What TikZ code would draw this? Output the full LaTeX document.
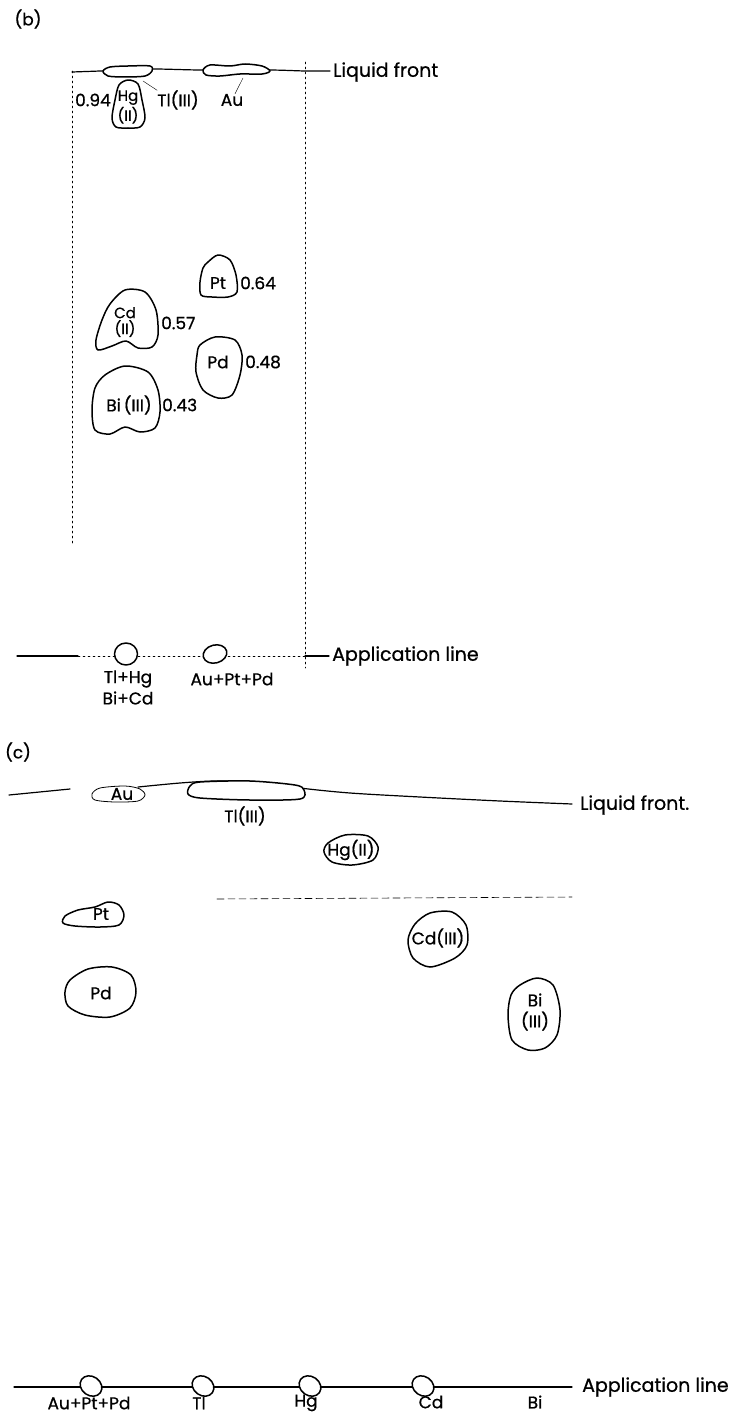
\documentclass[tikz,border=0pt]{standalone}
\usepackage{fontspec}
\setmainfont{Poppins}[FakeBold=0.7]
\begin{document}
\begin{tikzpicture}[x=1pt,y=-1pt,line cap=round,
  spot/.style={line width=1.5pt,fill=white,line join=round},
  faintspot/.style={line width=0.8pt,fill=white},
  front/.style={line width=1.2pt},
  guide/.style={line width=0.5pt,dash pattern=on 2pt off 3pt},
  leader/.style={line width=0.4pt},
  lbl/.style={inner sep=0pt,font=\fontsize{17}{18}\selectfont},
  small/.style={inner sep=0pt,align=center,font=\fontsize{15}{15}\selectfont},
  rf/.style={inner sep=0pt,anchor=west,font=\fontsize{17}{18}\selectfont},
  tag/.style={inner sep=0pt,anchor=west,font=\fontsize{19}{20}\selectfont}]
  \useasboundingbox (0,0) rectangle (728,1418);
  % ============ CROMATOGRAMA (b) ============
  \node[lbl] (pb) at (28,19) {(b)};
  % guias verticales
  \draw[guide] (72,71) -- (72,545);
  \draw[guide] (305,62) -- (305,668);
  % frente del liquido
  \draw[front] plot[smooth] coordinates {(72,72) (100,71) (150,69) (200,70) (270,70) (305,71) (330,71)};
  \node[tag] (lfb) at (333,72) {Liquid front};
  % manchas en el frente
  \draw[spot] plot[smooth cycle] coordinates {(103,71) (110,67) (128,66) (150,66) (152,71) (145,76) (125,77) (108,76)};
  \draw[spot] plot[smooth cycle] coordinates {(203,70) (210,65) (230,66) (245,64) (262,66) (270,71) (262,74) (240,74) (220,76) (206,75)};
  \node[lbl] (tlb) at (178,100) {Tl(III)};
  \node[lbl] (aub) at (232,100) {Au};
  \coordinate (tlbtip) at (143,81);
  \coordinate (aubtip) at (243,78);
  \draw[leader] (tlb.north west) -- (tlbtip);
  \draw[leader] ([xshift=3pt]aub.north) -- (aubtip);
  % Hg(II)
  \draw[spot] plot[smooth cycle] coordinates {(128,80) (138,84) (142,100) (145,118) (140,127) (128,128) (116,127) (112,118) (115,100) (119,85)};
  \node[small] (hgb) at (128,107) {Hg\\[1pt](II)};
  \node[lbl,anchor=east] (rhg) at (111,100) {0.94};
  % Pt
  \draw[spot] plot[smooth cycle] coordinates {(208,262) (218,255) (230,260) (236,275) (237,292) (228,297) (212,297) (201,295) (200,282) (203,268)};
  \node[lbl] (ptb) at (218,283) {Pt};
  \node[rf] (rpt) at (240,283) {0.64};
  % Cd(II)
  \draw[spot] plot[smooth cycle] coordinates {(110,304) (125,290) (145,292) (156,310) (158,335) (152,347) (138,348) (126,341) (112,346) (98,350) (96,340) (102,320)};
  \node[small] (cdb) at (125,322) {Cd\\[1pt](II)};
  \node[rf] (rcd) at (161,323) {0.57};
  % Pd
  \draw[spot] plot[smooth cycle] coordinates {(200,345) (215,337) (235,340) (242,355) (240,375) (232,395) (218,398) (203,390) (196,372) (197,355)};
  \node[lbl] (pdb) at (218,362) {Pd};
  \node[rf] (rpd) at (245,362) {0.48};
  % Bi(III)
  \draw[spot] plot[smooth cycle] coordinates {(105,375) (125,366) (148,372) (158,390) (160,412) (155,428) (140,432) (125,427) (110,434) (95,430) (92,410) (95,388)};
  \node[lbl] (bib) at (129,405) {Bi\,(III)};
  \node[rf] (rbi) at (162,405) {0.43};
  % linea de aplicacion
  \draw[front] (17,656) -- (78,656);
  \draw[guide] (78,656) -- (305,656);
  \draw[front] (305,656) -- (329,656);
  \draw[spot] (126,654) ellipse (11.5 and 11);
  \draw[spot,rotate around={15:(215,654)}] (215,654) ellipse (12 and 9);
  \node[tag] (alb) at (332,656) {Application line};
  \node[lbl] (sb1) at (128,679) {Tl+Hg};
  \node[lbl] (sb2) at (128,698) {Bi+Cd};
  \node[lbl] (sb3) at (232,679) {Au+Pt+Pd};
  % ============ CROMATOGRAMA (c) ============
  \node[lbl] (pc) at (18,752) {(c)};
  % frente del liquido
  \draw[front] (9,795) -- (70,789);
  \draw[front] plot[smooth] coordinates {(138,787) (180,783) (215,781) (260,782) (300,788) (350,793) (420,797) (500,801) (572,804)};
  \node[tag] (lfc) at (580,805) {Liquid front.};
  \draw[faintspot] plot[smooth cycle] coordinates {(92,794) (100,788) (125,786) (140,789) (145,795) (138,801) (115,802) (95,800)};
  \node[lbl] (auc) at (122,794) {Au};
  \draw[spot] plot[smooth cycle] coordinates {(190,786) (200,782) (250,781) (295,785) (304,790) (300,799) (250,800) (200,798) (188,794)};
  \node[lbl] (tlc) at (245,816) {Tl(III)};
  % Hg(II)
  \draw[spot] plot[smooth cycle] coordinates {(328,843) (345,835) (368,836) (378,847) (373,860) (352,865) (332,862) (324,852)};
  \node[lbl] (hgc) at (351,850) {Hg(II)};
  % linea de trazos
  \draw[line width=0.6pt,dash pattern=on 7pt off 4pt] (217,899) -- (572,897);
  % Pt
  \draw[spot] plot[smooth cycle] coordinates {(65,916) (78,910) (95,907) (108,902) (119,905) (124,915) (119,925) (100,927) (75,926) (63,923)};
  \node[lbl] (ptc) at (101,914) {Pt};
  % Cd(III)
  \draw[spot] plot[smooth cycle] coordinates {(415,924) (430,913) (452,912) (466,925) (467,945) (455,958) (430,967) (413,958) (408,940)};
  \node[lbl] (cdc) at (438,938) {Cd(III)};
  % Pd
  \draw[spot] plot[smooth cycle] coordinates {(70,980) (88,969) (112,967) (131,975) (136,992) (130,1008) (110,1017) (85,1015) (68,1006) (65,992)};
  \node[lbl] (pdc) at (101,993) {Pd};
  % Bi(III)
  \draw[spot] plot[smooth cycle] coordinates {(520,985) (537,978) (553,985) (560,1010) (557,1035) (545,1048) (528,1050) (512,1040) (508,1015) (511,995)};
  \node[small,font=\fontsize{17}{21}\selectfont] (bic) at (535,1012) {Bi\\(III)};
  % linea de aplicacion
  \draw[front] (14,1387) -- (572,1387);
  \foreach \sx in {91,203,310,423}
    \draw[spot,rotate around={55:(\sx,1386)}] (\sx,1386) ellipse (9.5 and 11.5);
  \node[tag] (alc) at (582,1387) {Application line};
  \node[lbl] (sc1) at (89,1403) {Au+Pt+Pd};
  \node[lbl] (sc2) at (199,1403) {Tl};
  \node[lbl] (sc3) at (306,1403) {Hg};
  \node[lbl] (sc4) at (431,1402) {Cd};
  \node[lbl] (sc5) at (535,1402) {Bi};
\end{tikzpicture}
\end{document}
